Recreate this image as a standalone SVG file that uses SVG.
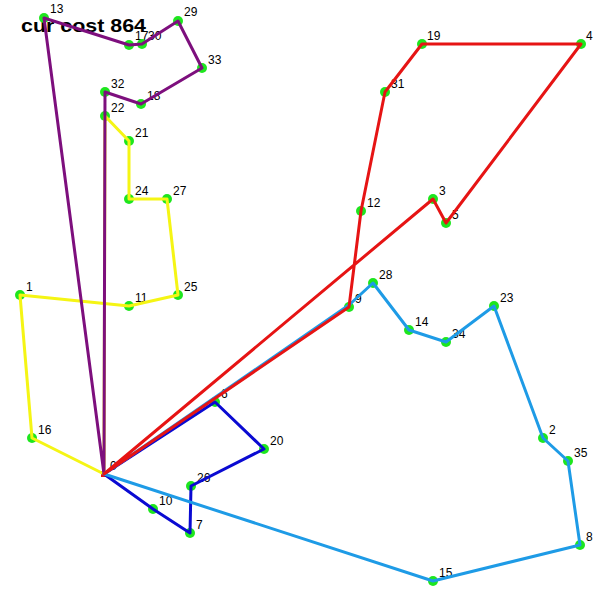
<svg xmlns="http://www.w3.org/2000/svg" width="600" height="600" viewBox="0 0 600 600">
<style>
.dot{fill:#1ee61e}
.lbl{font-family:"Liberation Sans",Arial,sans-serif;font-size:12px;fill:#000}
.title{font-family:"Liberation Sans",Arial,sans-serif;font-size:18px;font-weight:bold;fill:#000}
.r{fill:none;stroke-width:3;stroke-linejoin:round;stroke-linecap:round}
.yellow{stroke:#f5f514}
.purple{stroke:#7d0f7d}
.blue{stroke:#0a0ad2}
.lblue{stroke:#1e9be6}
.red{stroke:#e61414}
</style>
<rect width="600" height="600" fill="#fff"/>
<text class="title" x="21" y="32" textLength="125" lengthAdjust="spacingAndGlyphs">cur cost 864</text>
<g id="nodes">
<g id="n1"><circle class="dot" cx="20" cy="295" r="5"/><text class="lbl" x="26" y="291">1</text></g>
<g id="n2"><circle class="dot" cx="543" cy="438" r="5"/><text class="lbl" x="549" y="434">2</text></g>
<g id="n3"><circle class="dot" cx="433" cy="199" r="5"/><text class="lbl" x="439" y="195">3</text></g>
<g id="n4"><circle class="dot" cx="581" cy="44" r="5"/><text class="lbl" x="586" y="40">4</text></g>
<g id="n5"><circle class="dot" cx="446" cy="223" r="5"/><text class="lbl" x="452" y="219">5</text></g>
<g id="n6"><circle class="dot" cx="215" cy="402" r="5"/><text class="lbl" x="221" y="398">6</text></g>
<g id="n7"><circle class="dot" cx="190" cy="533" r="5"/><text class="lbl" x="196" y="529">7</text></g>
<g id="n8"><circle class="dot" cx="580" cy="545" r="5"/><text class="lbl" x="586" y="541">8</text></g>
<g id="n9"><circle class="dot" cx="349" cy="307" r="5"/><text class="lbl" x="355" y="303">9</text></g>
<g id="n10"><circle class="dot" cx="153" cy="509" r="5"/><text class="lbl" x="159" y="505">10</text></g>
<g id="n11"><circle class="dot" cx="129" cy="306" r="5"/><text class="lbl" x="135" y="302">11</text></g>
<g id="n12"><circle class="dot" cx="361" cy="211" r="5"/><text class="lbl" x="367" y="207">12</text></g>
<g id="n13"><circle class="dot" cx="44" cy="18" r="5"/><text class="lbl" x="50" y="13">13</text></g>
<g id="n14"><circle class="dot" cx="409" cy="330" r="5"/><text class="lbl" x="415" y="326">14</text></g>
<g id="n15"><circle class="dot" cx="433" cy="581" r="5"/><text class="lbl" x="439" y="577">15</text></g>
<g id="n16"><circle class="dot" cx="32" cy="438" r="5"/><text class="lbl" x="38" y="434">16</text></g>
<g id="n17"><circle class="dot" cx="129" cy="45" r="5"/><text class="lbl" x="135" y="40">17</text></g>
<g id="n18"><circle class="dot" cx="141" cy="104" r="5"/><text class="lbl" x="147" y="100">18</text></g>
<g id="n19"><circle class="dot" cx="422" cy="44" r="5"/><text class="lbl" x="427" y="40">19</text></g>
<g id="n20"><circle class="dot" cx="264" cy="449" r="5"/><text class="lbl" x="270" y="445">20</text></g>
<g id="n21"><circle class="dot" cx="129" cy="141" r="5"/><text class="lbl" x="135" y="137">21</text></g>
<g id="n22"><circle class="dot" cx="105" cy="116" r="5"/><text class="lbl" x="111" y="112">22</text></g>
<g id="n23"><circle class="dot" cx="494" cy="306" r="5"/><text class="lbl" x="500" y="302">23</text></g>
<g id="n24"><circle class="dot" cx="129" cy="199" r="5"/><text class="lbl" x="135" y="195">24</text></g>
<g id="n25"><circle class="dot" cx="178" cy="295" r="5"/><text class="lbl" x="184" y="291">25</text></g>
<g id="n26"><circle class="dot" cx="191" cy="486" r="5"/><text class="lbl" x="197" y="482">26</text></g>
<g id="n27"><circle class="dot" cx="167" cy="199" r="5"/><text class="lbl" x="173" y="195">27</text></g>
<g id="n28"><circle class="dot" cx="373" cy="283" r="5"/><text class="lbl" x="379" y="279">28</text></g>
<g id="n29"><circle class="dot" cx="178" cy="21" r="5"/><text class="lbl" x="184" y="16">29</text></g>
<g id="n30"><circle class="dot" cx="142" cy="44" r="5"/><text class="lbl" x="148" y="40">30</text></g>
<g id="n31"><circle class="dot" cx="385" cy="92" r="5"/><text class="lbl" x="391" y="88">31</text></g>
<g id="n32"><circle class="dot" cx="105" cy="92" r="5"/><text class="lbl" x="111" y="88">32</text></g>
<g id="n33"><circle class="dot" cx="202" cy="68" r="5"/><text class="lbl" x="208" y="64">33</text></g>
<g id="n34"><circle class="dot" cx="446" cy="342" r="5"/><text class="lbl" x="452" y="338">34</text></g>
<g id="n35"><circle class="dot" cx="568" cy="461" r="5"/><text class="lbl" x="574" y="457">35</text></g>
<g id="n0"><rect x="101" y="471" width="6" height="6" fill="#e61414"/><text class="lbl" x="110" y="470">0</text></g>
</g>
<g id="connectors">
<polyline class="r yellow" points="104,474 32,438 20,295 129,306 178,295 167,199 129,199 129,141 105,116 104,474"/>
<polyline class="r purple" points="104,474 44,18 129,45 142,44 178,21 202,68 141,104 105,92 104,474"/>
<polyline class="r blue" points="104,474 153,509 190,533 191,486 264,449 215,402 104,474"/>
<polyline class="r lblue" points="104,474 349,305 373,283 409,330 446,342 494,306 543,438 568,461 580,545 433,581 104,474"/>
<polyline class="r red" points="104,474 349,307 361,211 385,92 422,44 581,44 446,223 433,199 104,474"/>
</g>
</svg>
